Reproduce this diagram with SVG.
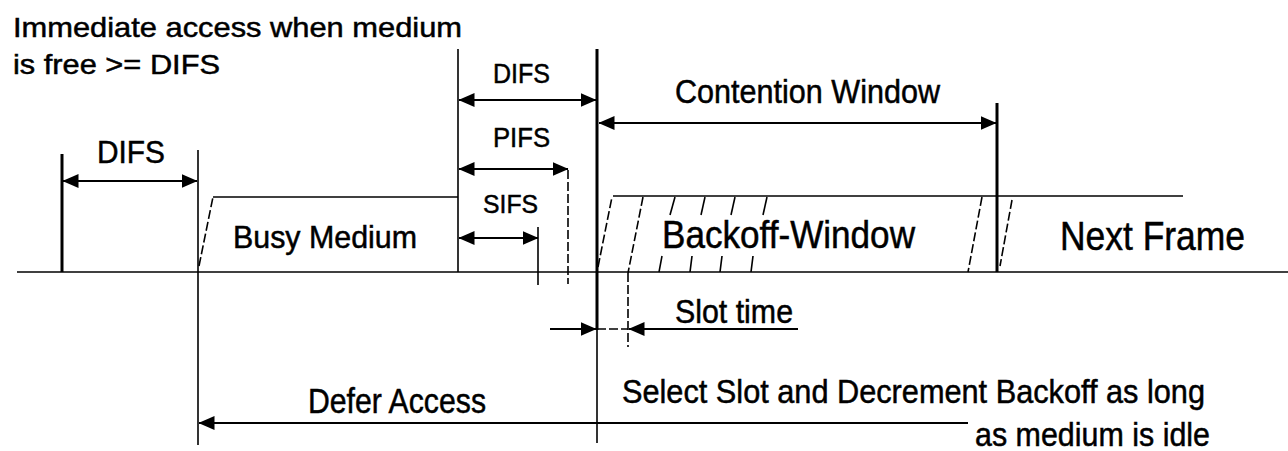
<svg xmlns="http://www.w3.org/2000/svg" width="1288" height="451" viewBox="0 0 1288 451">
  <defs>
    <marker id="ah" markerUnits="userSpaceOnUse" markerWidth="16" markerHeight="14" viewBox="0 0 16 14" refX="15.5" refY="7" orient="auto-start-reverse">
      <path d="M0,0 L16,7 L0,14 z" fill="#000"/>
    </marker>
    <style>
      text { font-family: "Liberation Sans", Arial, sans-serif; fill: #000; stroke: #000; stroke-width: 0.5; }
      .ln { stroke: #000; stroke-width: 1.6; fill: none; }
      .thick { stroke: #000; stroke-width: 3; fill: none; }
      .dash { stroke: #000; stroke-width: 1.6; fill: none; stroke-dasharray: 9 3; }
      .arr { stroke: #000; stroke-width: 2.2; fill: none; marker-end: url(#ah); }
      .arr2 { stroke: #000; stroke-width: 2.2; fill: none; marker-start: url(#ah); marker-end: url(#ah); }
    </style>
  </defs>
  <rect width="1288" height="451" fill="#fff"/>

  <g id="title">
    <text x="13" y="37" font-size="28" textLength="449" lengthAdjust="spacingAndGlyphs">Immediate access when medium</text>
    <text x="13" y="74" font-size="28" textLength="207" lengthAdjust="spacingAndGlyphs">is free &gt;= DIFS</text>
  </g>

  <g id="timeline">
    <line class="ln" x1="17" y1="272" x2="1288" y2="272" stroke-width="2"/>
    <line class="thick" x1="62" y1="154" x2="62" y2="272" stroke-width="2.5"/>
    <line class="ln" x1="198" y1="150" x2="198" y2="445" stroke-width="2"/>
    <line class="ln" x1="458" y1="49" x2="458" y2="272"/>
    <line class="thick" x1="597" y1="49" x2="597" y2="330"/>
    <line class="ln" x1="597" y1="330" x2="597" y2="443"/>
    <line class="ln" x1="538" y1="227" x2="538" y2="285"/>
    <line class="dash" x1="568" y1="170" x2="568" y2="284" stroke-dasharray="14 3"/>
    <line class="thick" x1="997" y1="103" x2="997" y2="272"/>
  </g>

  <g id="busy-medium">
    <line class="dash" x1="199" y1="266" x2="213" y2="197"/>
    <line class="ln" x1="213" y1="197" x2="458" y2="197"/>
    <text x="233" y="248" font-size="32" textLength="184" lengthAdjust="spacingAndGlyphs">Busy Medium</text>
  </g>

  <g id="backoff-window">
    <line class="ln" x1="613" y1="196" x2="1183" y2="196"/>
    <line class="dash" x1="598" y1="267" x2="612" y2="197"/>
    <line class="dash" x1="643" y1="197" x2="628" y2="273"/>
    <line class="dash" x1="628" y1="273" x2="628" y2="347" stroke-dasharray="16 3"/>
    <g class="ln">
      <line x1="675" y1="197" x2="670" y2="215"/>
      <line x1="662" y1="256" x2="659" y2="272"/>
      <line x1="705" y1="197" x2="701" y2="215"/>
      <line x1="692" y1="256" x2="690" y2="272"/>
      <line x1="735" y1="197" x2="731" y2="215"/>
      <line x1="722" y1="256" x2="720" y2="272"/>
      <line x1="767" y1="197" x2="763" y2="215"/>
      <line x1="753" y1="256" x2="751" y2="272"/>
    </g>
    <line class="dash" x1="982" y1="197" x2="968" y2="272"/>
    <text x="662" y="248" font-size="38" textLength="253" lengthAdjust="spacingAndGlyphs">Backoff-Window</text>
  </g>

  <g id="next-frame">
    <line class="dash" x1="1012" y1="200" x2="1000" y2="266"/>
    <text x="1060" y="250" font-size="40" textLength="185" lengthAdjust="spacingAndGlyphs">Next Frame</text>
  </g>

  <g id="labels">
    <text x="97" y="163" font-size="32" textLength="68" lengthAdjust="spacingAndGlyphs">DIFS</text>
    <text x="493" y="83" font-size="28" textLength="57" lengthAdjust="spacingAndGlyphs">DIFS</text>
    <text x="493" y="147" font-size="28" textLength="57" lengthAdjust="spacingAndGlyphs">PIFS</text>
    <text x="483" y="213" font-size="26" textLength="55" lengthAdjust="spacingAndGlyphs">SIFS</text>
    <text x="675" y="103" font-size="34" textLength="265" lengthAdjust="spacingAndGlyphs">Contention Window</text>
    <text x="675" y="323" font-size="34" textLength="118" lengthAdjust="spacingAndGlyphs">Slot time</text>
    <text x="308" y="413" font-size="35" textLength="178" lengthAdjust="spacingAndGlyphs">Defer Access</text>
    <text x="622" y="403" font-size="34" textLength="583" lengthAdjust="spacingAndGlyphs">Select Slot and Decrement Backoff as long</text>
    <text x="975" y="446" font-size="34" textLength="235" lengthAdjust="spacingAndGlyphs">as medium is idle</text>
  </g>

  <g id="connectors">
    <line class="arr2" x1="63" y1="181" x2="197" y2="181"/>
    <line class="arr2" x1="459" y1="100" x2="596" y2="100"/>
    <line class="arr2" x1="459" y1="169" x2="568" y2="169"/>
    <line class="arr2" x1="459" y1="238" x2="538" y2="238"/>
    <line class="arr2" x1="599" y1="123" x2="996" y2="123"/>
    <line class="arr" x1="550" y1="329" x2="596" y2="329"/>
    <line class="dash" x1="597" y1="329" x2="628" y2="329" stroke-dasharray="6 3"/>
    <line class="arr" x1="798" y1="329" x2="629" y2="329"/>
    <line class="arr" x1="968" y1="423" x2="199" y2="423"/>
  </g>
</svg>
